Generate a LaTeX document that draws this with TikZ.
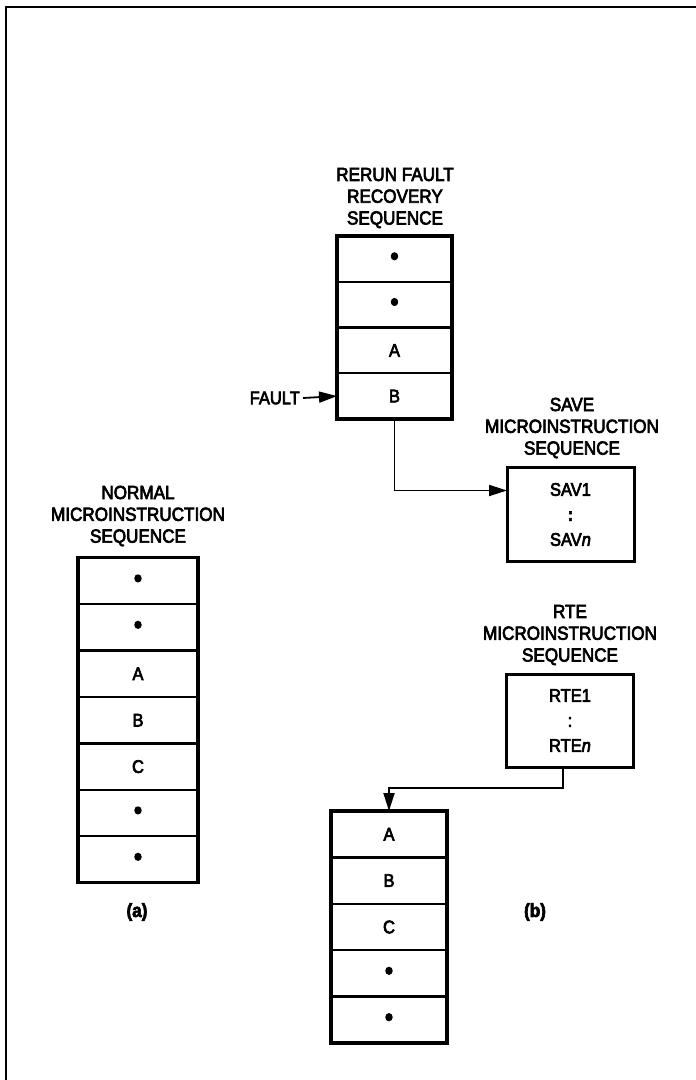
\documentclass[tikz,border=0pt]{standalone}
\usepackage{fontspec}
\setmainfont{Liberation Sans}[FakeStretch=0.9,FakeBold=3.5]
\usetikzlibrary{arrows.meta,calc}
\newcommand\ttlfont{\fontsize{19}{21.8}\selectfont}
\newcommand\boxfont{\fontsize{18.3}{26}\selectfont}
\newcommand\dotmark{\scalebox{1.45}{\textbullet}}
\begin{document}
\begin{tikzpicture}[x=1pt,y=-1pt,
  mcell/.style={draw, line width=2.4pt, minimum height=46.4pt, inner sep=0pt, outer sep=0pt, font=\boxfont},
  outerline/.style={line width=3.2pt},
  ttl/.style={align=center, font=\ttlfont, inner sep=0pt},
  seqbox/.style={draw, line width=3pt, minimum width=127pt, minimum height=94pt, inner sep=0pt, outer sep=0pt, align=center, font=\boxfont},
  conn/.style={line width=1.8pt, -{Triangle[length=18pt,width=11pt]}},
  lbl/.style={font=\fontsize{19}{22}\selectfont\bfseries, inner sep=0pt}
]
\useasboundingbox (0,0) rectangle (696,1080);
% frame
\draw[line width=1.8pt] (6,1080) -- (6,7) -- (696,7);

% (a) normal sequence
\node[ttl] (ta) at (138,516) {NORMAL\\MICROINSTRUCTION\\SEQUENCE};
\begin{scope}[every node/.style={mcell, minimum width=120pt}]
\node (a1) at (138,581) {\dotmark};
\node (a2) at (138,627.4) {\dotmark};
\node (a3) at (138,673.8) {A};
\node (a4) at (138,720.2) {B};
\node (a5) at (138,766.6) {C};
\node (a6) at (138,813) {\dotmark};
\node (a7) at (138,859.4) {\dotmark};
\end{scope}
\draw[outerline] (a1.north west) rectangle (a7.south east);
\node[lbl] (la) at (137,912) {(a)};

% (b) rerun fault recovery
\node[ttl] (tr) at (395,198) {RERUN FAULT\\RECOVERY\\SEQUENCE};
\begin{scope}[every node/.style={mcell, minimum width=115pt, minimum height=45.75pt}]
\node (r1) at (394.5,258.9) {\dotmark};
\node (r2) at (394.5,304.6) {\dotmark};
\node (r3) at (394.5,350.4) {A};
\node (r4) at (394.5,396.1) {B};
\end{scope}
\draw[outerline] (r1.north west) rectangle (r4.south east);
\node[font=\boxfont, inner sep=0pt, anchor=east] (fault) at (300,398) {FAULT};
\draw[conn] (fault.east) ++(3,0) coordinate (fs) (fs) -- (r4.west);

% save sequence
\node[ttl] (ts) at (572,428) {SAVE\\MICROINSTRUCTION\\SEQUENCE};
\node[seqbox] (sav) at (570.5,514.5) {SAV1\\[-1pt]\textbf{:}\\[-1pt]SAV\textit{n}};
\draw[conn] (r4.south) |- ($(sav.north west)+(0,23)$);

% RTE sequence
\node[ttl] (tt) at (570,635) {RTE\\MICROINSTRUCTION\\SEQUENCE};
\node[seqbox, minimum height=93pt] (rte) at (570,720.5) {RTE1\\[-1pt]:\\[-1pt]RTE\textit{n}};

% bottom stack
\begin{scope}[every node/.style={mcell, minimum width=116pt}]
\node (b1) at (389,834.2) {A};
\node (b2) at (389,880.6) {B};
\node (b3) at (389,927) {C};
\node (b4) at (389,973.4) {\dotmark};
\node (b5) at (389,1019.8) {\dotmark};
\end{scope}
\draw[outerline] (b1.north west) rectangle (b5.south east);
\draw[conn] ($(rte.south)+(-7,0)$) -- ++(0,21) -| (b1.north);
\node[lbl] (lb) at (535,912) {(b)};
\end{tikzpicture}
\end{document}
